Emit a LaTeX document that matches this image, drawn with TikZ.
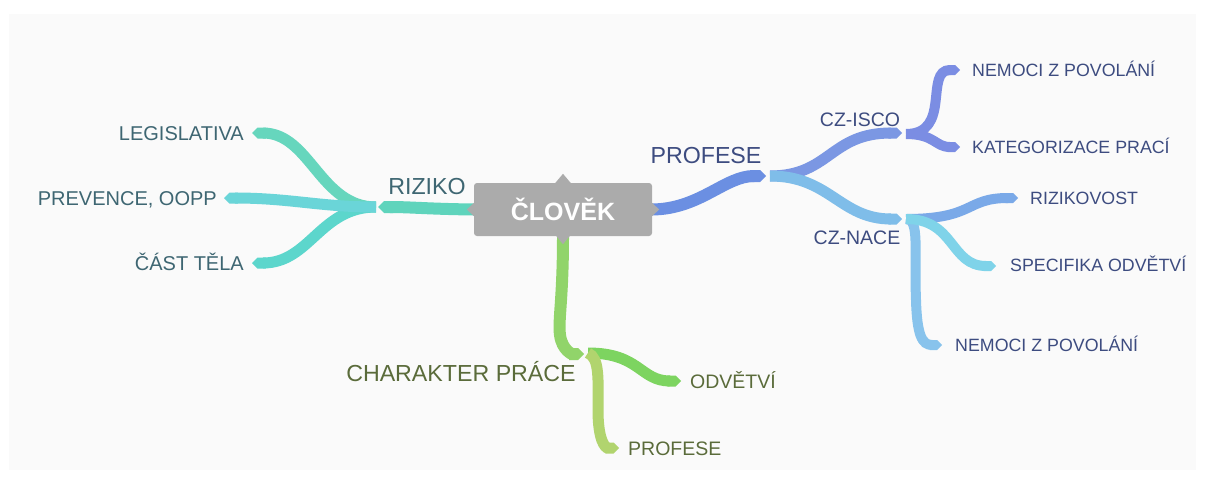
\documentclass[tikz,border=0pt]{standalone}
\usepackage{fontspec}
\setmainfont{Liberation Sans}
\usetikzlibrary{arrows.meta,calc}
\definecolor{panel}{HTML}{FAFAFA}
\definecolor{boxgray}{HTML}{ABABAB}
\definecolor{rizmain}{HTML}{5FD4BC}
\definecolor{legc}{HTML}{66D6BD}
\definecolor{prevc}{HTML}{6AD5D8}
\definecolor{castc}{HTML}{5CD6CC}
\definecolor{promain}{HTML}{6B8FE2}
\definecolor{iscoc}{HTML}{7B97E3}
\definecolor{nacec}{HTML}{7FBDE9}
\definecolor{iscoleaf}{HTML}{7B8DE3}
\definecolor{rizkc}{HTML}{7AA9E8}
\definecolor{specc}{HTML}{7FD3E9}
\definecolor{nem2c}{HTML}{88C3EC}
\definecolor{charmain}{HTML}{91D46A}
\definecolor{odvc}{HTML}{7DD460}
\definecolor{prof2c}{HTML}{B1D46E}
\definecolor{tleft}{HTML}{3E6672}
\definecolor{tright}{HTML}{3D4C80}
\definecolor{tgreen}{HTML}{5A6B3A}
\begin{document}
\begin{tikzpicture}[x=1pt,y=-1pt,
  br/.style={line width=#1, line cap=butt, -{Triangle Cap}},
  big/.style={inner sep=0pt, font=\fontsize{23.2}{26}\selectfont, text height=16.6pt, text depth=0pt},
  mid/.style={inner sep=0pt, font=\fontsize{19.5}{22}\selectfont, text height=14pt, text depth=0pt},
  lmid/.style={inner sep=0pt, font=\fontsize{20}{23}\selectfont, text height=14.3pt, text depth=0pt},
  small/.style={inner sep=0pt, font=\fontsize{17.8}{20}\selectfont, text height=12.7pt, text depth=0pt}]
\useasboundingbox (0,0) rectangle (1205,482);
\fill[white] (0,0) rectangle (1205,482);
\fill[panel] (9,14) rectangle (1196,470);

% center
\node[fill=boxgray, rounded corners=3pt, minimum width=178pt, minimum height=53pt,
      text=white, font=\fontsize{25}{28}\bfseries\selectfont, inner sep=0pt] (c) at (563,209.5) {ČLOVĚK};

% junction / tip coordinates
\coordinate (rz) at (378,207);
\coordinate (rzj) at (376,207);
\coordinate (legt) at (252,133);
\coordinate (prevt) at (224,198);
\coordinate (castt) at (252,263);
\coordinate (pf) at (766,176);
\coordinate (pfj) at (770,176);
\coordinate (isco) at (902,133);
\coordinate (iscoj) at (906,134);
\coordinate (nace) at (902,219);
\coordinate (nacej) at (906,219);
\coordinate (nem1t) at (960,70);
\coordinate (katt) at (960,147);
\coordinate (rizkt) at (1018,198);
\coordinate (spect) at (996,266);
\coordinate (nem2t) at (942,345);
\coordinate (ch) at (584,354);
\coordinate (chj) at (588,353);
\coordinate (odvt) at (681,381);
\coordinate (prof2t) at (619,448);

% RIZIKO
\draw[br=11pt, legc] (rzj) .. controls (320,207) and (310,133) .. (legt);
\draw[br=11pt, castc] (rzj) .. controls (320,207) and (310,263) .. (castt);
\draw[br=11pt, prevc] (rzj) .. controls (320,207) and (290,198) .. (prevt);
\draw[br=12pt, rizmain] (c.west) .. controls (430,209) and (410,207) .. (rz);

% PROFESE
\draw[br=10pt, iscoleaf] (iscoj) .. controls (952,134) and (924,70) .. (nem1t);
\draw[br=10pt, iscoleaf] (iscoj) .. controls (935,134) and (935,147) .. (katt);
\draw[br=10pt, rizkc] (nacej) .. controls (975,219) and (965,198) .. (rizkt);
\draw[br=10pt, nem2c] (nacej) .. controls (920,219) and (914,250) .. (916,300) .. controls (917,335) and (922,345) .. (nem2t);
\draw[br=10pt, specc] (nacej) .. controls (955,219) and (950,266) .. (spect);
\draw[br=11pt, iscoc] (pfj) .. controls (830,176) and (830,133) .. (isco);
\draw[br=11pt, nacec] (pfj) .. controls (830,176) and (840,219) .. (nace);
\draw[br=12pt, promain] (c.east) .. controls (700,209) and (725,176) .. (pf);

% CHARAKTER PRACE
\draw[br=11pt, odvc] (chj) .. controls (640,353) and (640,381) .. (odvt);
\draw[br=11pt, prof2c] (chj) .. controls (600,358) and (598,380) .. (598,410) .. controls (598,440) and (605,448) .. (prof2t);
\draw[br=12pt, charmain] (c.south) .. controls (563,300) and (558,320) .. (560,335) .. controls (562,350) and (572,354) .. (ch);

% box notches
\fill[boxgray] ($(c.north)+(-8,0.5)$) -- ($(c.north)+(0,-9)$) -- ($(c.north)+(8,0.5)$) -- cycle;
\fill[boxgray] ($(c.south)+(-7,-0.5)$) -- ($(c.south)+(0,8)$) -- ($(c.south)+(7,-0.5)$) -- cycle;
\fill[boxgray] ($(c.west)+(0.5,-7)$) -- ($(c.west)+(-7,0)$) -- ($(c.west)+(0.5,7)$) -- cycle;
\fill[boxgray] ($(c.east)+(-0.5,-7)$) -- ($(c.east)+(7,0)$) -- ($(c.east)+(-0.5,7)$) -- cycle;

% labels
\node[big, text=tleft] (lriz) at (427,186) {RIZIKO};
\node[big, text=tright] (lpro) at (706,155) {PROFESE};
\node[big, text=tgreen] (lchar) at (461,373) {CHARAKTER PRÁCE};
\node[lmid, text=tleft, anchor=east] (lleg) at (244,133) {LEGISLATIVA};
\node[lmid, text=tleft, anchor=east] (lprev) at (217,198) {PREVENCE, OOPP};
\node[lmid, text=tleft, anchor=east] (lcast) at (244,263) {ČÁST TĚLA};
\node[mid, text=tright] (lisco) at (860,119) {CZ-ISCO};
\node[mid, text=tright] (lnace) at (857,237) {CZ-NACE};
\node[small, text=tright, anchor=west] (lnem1) at (972,70) {NEMOCI Z POVOLÁNÍ};
\node[small, text=tright, anchor=west] (lkat) at (972,147) {KATEGORIZACE PRACÍ};
\node[small, text=tright, anchor=west] (lrizk) at (1030,198) {RIZIKOVOST};
\node[small, text=tright, anchor=west] (lspec) at (1010,265) {SPECIFIKA ODVĚTVÍ};
\node[small, text=tright, anchor=west] (lnem2) at (955,345) {NEMOCI Z POVOLÁNÍ};
\node[mid, text=tgreen, anchor=west] (lodv) at (690,381) {ODVĚTVÍ};
\node[mid, text=tgreen, anchor=west] (lprof2) at (628,448) {PROFESE};
\end{tikzpicture}
\end{document}
